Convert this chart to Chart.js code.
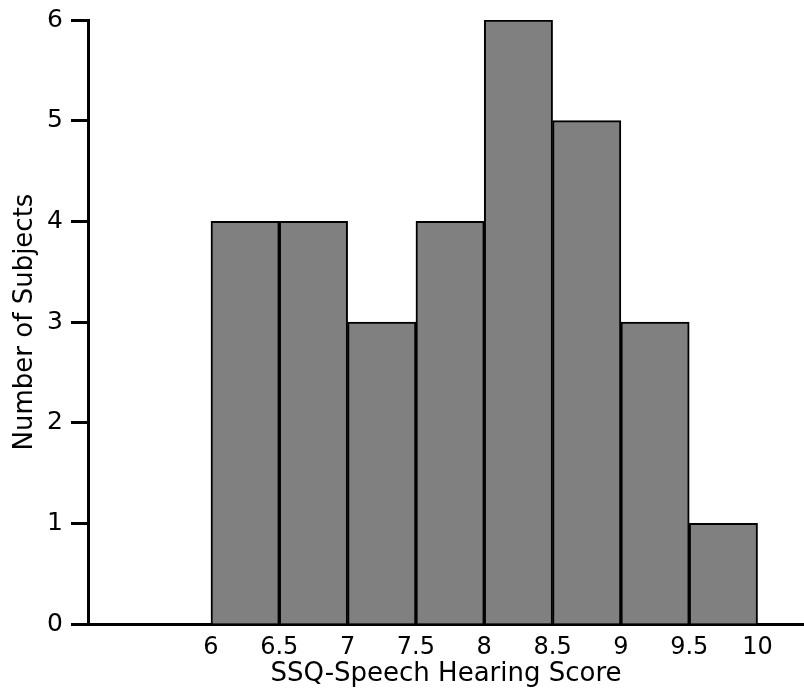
<!DOCTYPE html>
<html>
<head>
<meta charset="utf-8">
<script src="https://cdn.jsdelivr.net/npm/chart.js@4/dist/chart.umd.min.js"></script>
<style>
  html, body { margin: 0; padding: 0; background: #ffffff; }
  #wrap { width: 804px; height: 692px; }
</style>
</head>
<body>
<div id="wrap"><canvas id="hist" width="804" height="692"></canvas></div>
<script>
// Histogram of SSQ speech hearing scores, 0.5-point bins
const binStarts = [6, 6.5, 7, 7.5, 8, 8.5, 9, 9.5];
const binWidth = 0.5;
const counts = [4, 4, 3, 4, 6, 5, 3, 1];
const xTickValues = [6, 6.5, 7, 7.5, 8, 8.5, 9, 9.5, 10];
const yTickValues = [0, 1, 2, 3, 4, 5, 6];

const points = binStarts.map((s, i) => ({ x: s + binWidth / 2, y: counts[i] }));

const tickFont = { family: 'DejaVu Sans', size: 24 };
const titleFont = { family: 'DejaVu Sans', size: 26 };

new Chart(document.getElementById('hist'), {
  type: 'bar',
  data: {
    datasets: [{
      data: points,
      backgroundColor: '#808080',
      borderColor: '#000000',
      borderWidth: 2,
      borderSkipped: 'bottom',
      barPercentage: 1,
      categoryPercentage: 1
    }]
  },
  options: {
    responsive: false,
    animation: false,
    layout: { padding: { top: 20, right: 0, left: 0, bottom: 0 } },
    plugins: { legend: { display: false }, tooltip: { enabled: false } },
    scales: {
      x: {
        type: 'linear',
        offset: false,
        min: 5.1,
        max: 10.34,
        grid: { display: false, drawTicks: false, offset: false },
        border: { display: true, color: '#000000', width: 3 },
        afterBuildTicks: (scale) => { scale.ticks = xTickValues.map(v => ({ value: v })); },
        ticks: {
          color: '#000000',
          font: tickFont,
          padding: 9,
          maxRotation: 0,
          autoSkip: false,
          callback: (v) => String(v)
        },
        title: {
          display: true,
          text: 'SSQ-Speech Hearing Score',
          color: '#000000',
          font: titleFont,
          padding: { top: 0, bottom: 2 }
        },
        afterFit: (scale) => { scale.height = 68; }
      },
      y: {
        min: 0,
        max: 6,
        grid: {
          display: true,
          drawOnChartArea: false,
          drawTicks: true,
          tickLength: 17,
          tickWidth: 3,
          tickColor: '#000000'
        },
        border: { display: true, color: '#000000', width: 3 },
        afterBuildTicks: (scale) => { scale.ticks = yTickValues.map(v => ({ value: v })); },
        ticks: {
          color: '#000000',
          font: { family: 'DejaVu Sans', size: 25 },
          padding: 8
        },
        title: {
          display: true,
          text: 'Number of Subjects',
          color: '#000000',
          font: titleFont,
          padding: { top: 10, bottom: 2 }
        },
        afterFit: (scale) => {
          scale.width = 88;
          scale.paddingTop = 0;
          scale.paddingBottom = 0;
        }
      }
    }
  }
});
</script>
</body>
</html>
